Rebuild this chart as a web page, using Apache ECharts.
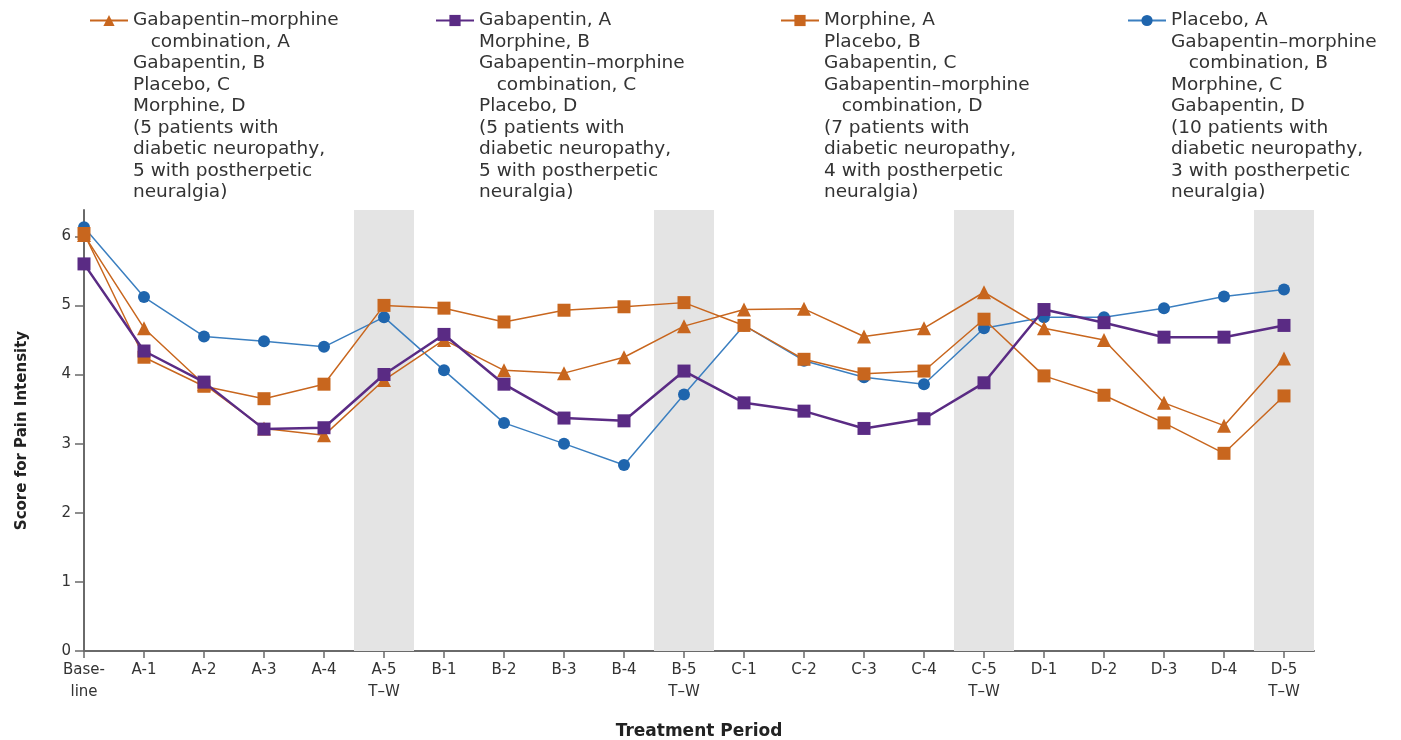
<!DOCTYPE html>
<html>
<head>
<meta charset="utf-8">
<script src="https://cdn.jsdelivr.net/npm/echarts@6/dist/echarts.min.js"></script>
<style>
  html, body { margin: 0; padding: 0; background: #fff; }
  #chart { width: 1401px; height: 740px; }
</style>
</head>
<body>
<div id="chart"></div>
<script>
// tick labels along the treatment period axis
const tickLabels = [
  'Base-\nline', 'A-1', 'A-2', 'A-3', 'A-4', 'A-5\nT\u2013W',
  'B-1', 'B-2', 'B-3', 'B-4', 'B-5\nT\u2013W',
  'C-1', 'C-2', 'C-3', 'C-4', 'C-5\nT\u2013W',
  'D-1', 'D-2', 'D-3', 'D-4', 'D-5\nT\u2013W'
];
const yTicks = [0, 1, 2, 3, 4, 5, 6];
const washoutIdx = [5, 10, 15, 20]; // taper-washout periods (grey bands)

const ind = '   ';
const nameCombo = 'Gabapentin\u2013morphine\n' + ind + 'combination, A\nGabapentin, B\nPlacebo, C\nMorphine, D\n(5 patients with\ndiabetic neuropathy,\n5 with postherpetic\nneuralgia)';
const nameGaba = 'Gabapentin, A\nMorphine, B\nGabapentin\u2013morphine\n' + ind + 'combination, C\nPlacebo, D\n(5 patients with\ndiabetic neuropathy,\n5 with postherpetic\nneuralgia)';
const nameMorph = 'Morphine, A\nPlacebo, B\nGabapentin, C\nGabapentin\u2013morphine\n' + ind + 'combination, D\n(7 patients with\ndiabetic neuropathy,\n4 with postherpetic\nneuralgia)';
const namePlac = 'Placebo, A\nGabapentin\u2013morphine\n' + ind + 'combination, B\nMorphine, C\nGabapentin, D\n(10 patients with\ndiabetic neuropathy,\n3 with postherpetic\nneuralgia)';

// pain scores
const comboVals = [6.02, 4.67, 3.86, 3.22, 3.12, 3.92, 4.50, 4.06, 4.02, 4.25, 4.70,
  4.94, 4.95, 4.55, 4.67, 5.19, 4.67, 4.50, 3.59, 3.26, 4.23];
const gabaVals = [5.60, 4.34, 3.89, 3.21, 3.23, 4.00, 4.58, 3.86, 3.37, 3.33, 4.05,
  3.59, 3.47, 3.22, 3.36, 3.88, 4.94, 4.75, 4.54, 4.54, 4.71];
const morphVals = [6.04, 4.25, 3.83, 3.65, 3.86, 5.00, 4.96, 4.76, 4.93, 4.98, 5.04,
  4.71, 4.22, 4.01, 4.05, 4.80, 3.98, 3.70, 3.30, 2.86, 3.69];
const placVals = [6.13, 5.12, 4.55, 4.48, 4.40, 4.83, 4.06, 3.30, 3.00, 2.69, 3.71,
  4.71, 4.20, 3.96, 3.86, 4.67, 4.83, 4.83, 4.96, 5.13, 5.23];

const orange = '#c8661e';
const purple = '#5a2b84';
const blue = '#1f65ad';

const chart = echarts.init(document.getElementById('chart'));

const xy = arr => arr.map((v, i) => [i, v]);
const legendNames = [nameCombo, nameGaba, nameMorph, namePlac];
const legendLeft = [89, 435, 780, 1127];

const option = {
  animation: false,
  backgroundColor: '#fff',
  grid: { left: 84, right: 87, top: 210, bottom: 89, outerBoundsMode: 'none' },
  // one legend per group; rich text + top padding puts the icon on the first line
  legend: legendNames.map((n, i) => ({
    data: [n],
    left: legendLeft[i],
    top: 11,
    padding: 0,
    selectedMode: false,
    itemWidth: 38,
    itemHeight: 14,
    formatter: name => name.split('\n').map(l => '{t|' + l + '}').join('\n'),
    textStyle: {
      padding: [172, 0, 0, 0],
      rich: {
        t: { fontFamily: 'DejaVu Sans', fontSize: 18.5, lineHeight: 21.5, color: '#333' }
      }
    }
  })),
  xAxis: {
    type: 'value',
    min: 0,
    max: 20.5,
    interval: 1,
    splitLine: { show: false },
    axisLine: { lineStyle: { color: '#6a6a6a', width: 2 } },
    axisTick: { customValues: tickLabels.map((t, i) => i), length: 7, lineStyle: { color: '#6a6a6a', width: 1.5 } },
    axisLabel: {
      customValues: tickLabels.map((t, i) => i),
      formatter: v => tickLabels[v] || '',
      fontFamily: 'DejaVu Sans',
      fontSize: 15,
      lineHeight: 22,
      color: '#333',
      margin: 8
    },
    name: 'Treatment Period',
    nameLocation: 'middle',
    nameGap: 72,
    nameTextStyle: { fontFamily: 'DejaVu Sans', fontWeight: 'bold', fontSize: 17, color: '#222' }
  },
  yAxis: {
    type: 'value',
    min: 0,
    max: 6.38,
    interval: 1,
    splitLine: { show: false },
    axisLine: { show: true, lineStyle: { color: '#6a6a6a', width: 2 } },
    axisTick: { show: true, customValues: yTicks, length: 9, lineStyle: { color: '#6a6a6a', width: 1.5 } },
    axisLabel: {
      customValues: yTicks,
      fontFamily: 'DejaVu Sans',
      fontSize: 15,
      color: '#333',
      margin: 13
    },
    name: 'Score for Pain Intensity',
    nameLocation: 'middle',
    nameRotate: 90,
    nameGap: 54,
    nameTextStyle: { fontFamily: 'DejaVu Sans', fontWeight: 'bold', fontSize: 15, color: '#222' }
  },
  series: [
    {
      name: namePlac,
      type: 'line',
      data: xy(placVals),
      symbol: 'circle',
      symbolSize: 12,
      itemStyle: { color: blue },
      lineStyle: { color: '#3b7fc0', width: 1.5 },
      markArea: {
        silent: true,
        itemStyle: { color: '#e4e4e4' },
        data: washoutIdx.map(i => [{ xAxis: i - 0.5 }, { xAxis: i + 0.5 }])
      },
      z: 2
    },
    {
      name: nameCombo,
      type: 'line',
      data: xy(comboVals),
      symbol: 'triangle',
      symbolSize: 14,
      itemStyle: { color: orange },
      lineStyle: { color: orange, width: 1.5 },
      z: 3
    },
    {
      name: nameMorph,
      type: 'line',
      data: xy(morphVals),
      symbol: 'rect',
      symbolSize: 13,
      itemStyle: { color: orange },
      lineStyle: { color: orange, width: 1.5 },
      z: 4
    },
    {
      name: nameGaba,
      type: 'line',
      data: xy(gabaVals),
      symbol: 'rect',
      symbolSize: 13,
      itemStyle: { color: purple },
      lineStyle: { color: purple, width: 2.5 },
      z: 5
    }
  ]
};

chart.setOption(option);
</script>
</body>
</html>
